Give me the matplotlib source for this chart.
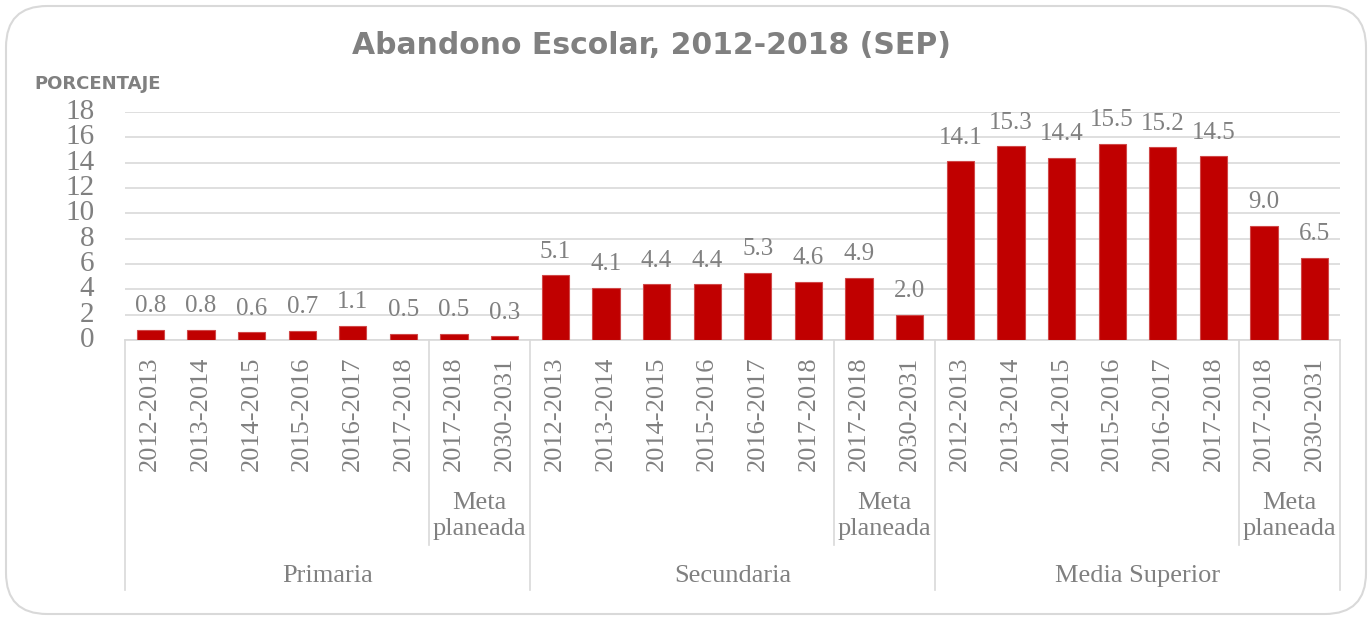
import matplotlib
matplotlib.use("Agg")
import matplotlib.pyplot as plt
from matplotlib.patches import FancyBboxPatch
import matplotlib.transforms as mtransforms

# ---- data ----
groups = ["Primaria", "Secundaria", "Media Superior"]
periods = ["2012-2013", "2013-2014", "2014-2015", "2015-2016", "2016-2017",
           "2017-2018", "2017-2018", "2030-2031"]
meta_label = "Meta\nplaneada"
primaria = [0.8, 0.8, 0.6, 0.7, 1.1, 0.5, 0.5, 0.3]
secundaria = [5.1, 4.1, 4.4, 4.4, 5.3, 4.6, 4.9, 2.0]
media_superior = [14.1, 15.3, 14.4, 15.5, 15.2, 14.5, 9.0, 6.5]
yticks = [0, 2, 4, 6, 8, 10, 12, 14, 16, 18]

values = primaria + secundaria + media_superior
labels = periods * 3
n_per = len(periods)
x = list(range(len(values)))

gray = "#808080"
grid = "#d9d9d9"
serif = "Liberation Serif"

fig = plt.figure(figsize=(13.72, 6.19), dpi=100)
ax = fig.add_axes([125 / 1372, (619 - 340) / 619, (1340 - 125) / 1372, 228 / 619])

ax.bar(x, values, width=0.54, color="#C00000", edgecolor="#d04848", linewidth=0.8, zorder=3)
for xi, v in zip(x, values):
    ax.text(xi, v + 1.0, f"{v:.1f}", ha="center", va="bottom", fontsize=18,
            family=serif, color=gray, zorder=4)

ax.set_xlim(-0.5, len(values) - 0.5)
ax.set_ylim(0, 18)
ax.set_yticks(yticks)
ax.set_yticklabels([str(t) for t in yticks], fontsize=21, family=serif, color=gray)
ax.tick_params(axis="y", length=0, pad=22)
ax.set_xticks(x)
ax.set_xticklabels(labels, rotation=90, fontsize=19, family=serif, color=gray)
ax.tick_params(axis="x", length=0, pad=12)
for lab in ax.get_yticklabels():
    lab.set_verticalalignment("center")

ax.grid(axis="y", color=grid, linewidth=1.2, zorder=0)
for s in ["top", "right", "left"]:
    ax.spines[s].set_visible(False)
ax.spines["bottom"].set_color(grid)
ax.spines["bottom"].set_linewidth(1.2)

trans = mtransforms.blended_transform_factory(ax.transData, ax.transAxes)
y_sub = (340 - 545) / 228
y_grp = (340 - 590) / 228
for gi in range(len(groups)):
    start = gi * n_per - 0.5
    ax.plot([start, start], [0, y_grp], transform=trans, color=grid, lw=1.2, clip_on=False)
    sub = gi * n_per + 5.5
    ax.plot([sub, sub], [0, y_sub], transform=trans, color=grid, lw=1.2, clip_on=False)
    ax.text(gi * n_per + 6.5, (340 - 516) / 228, meta_label, transform=trans, ha="center",
            va="center", fontsize=19, family=serif, color=gray, linespacing=1.25)
    ax.text(gi * n_per + 3.5, (340 - 576) / 228, groups[gi], transform=trans, ha="center",
            va="center", fontsize=19, family=serif, color=gray)
end = len(values) - 0.5
ax.plot([end, end], [0, y_grp], transform=trans, color=grid, lw=1.2, clip_on=False)

fig.text(651 / 1372, (619 - 45) / 619, "Abandono Escolar, 2012-2018 (SEP)", ha="center",
         va="center", fontsize=21.5, fontweight="bold", color=gray, family="DejaVu Sans")
fig.text(34 / 1372, (619 - 84) / 619, "PORCENTAJE", ha="left", va="center", fontsize=13,
         fontweight="bold", color=gray, family="DejaVu Sans")

box = FancyBboxPatch((6 / 1372, 5 / 619), 1360 / 1372, 608 / 619,
                     boxstyle="round,pad=0,rounding_size=0.03",
                     transform=fig.transFigure, facecolor="none", edgecolor=grid,
                     linewidth=1.5, mutation_aspect=1372 / 619)
fig.patches.append(box)

fig.savefig("out.png", dpi=100)
